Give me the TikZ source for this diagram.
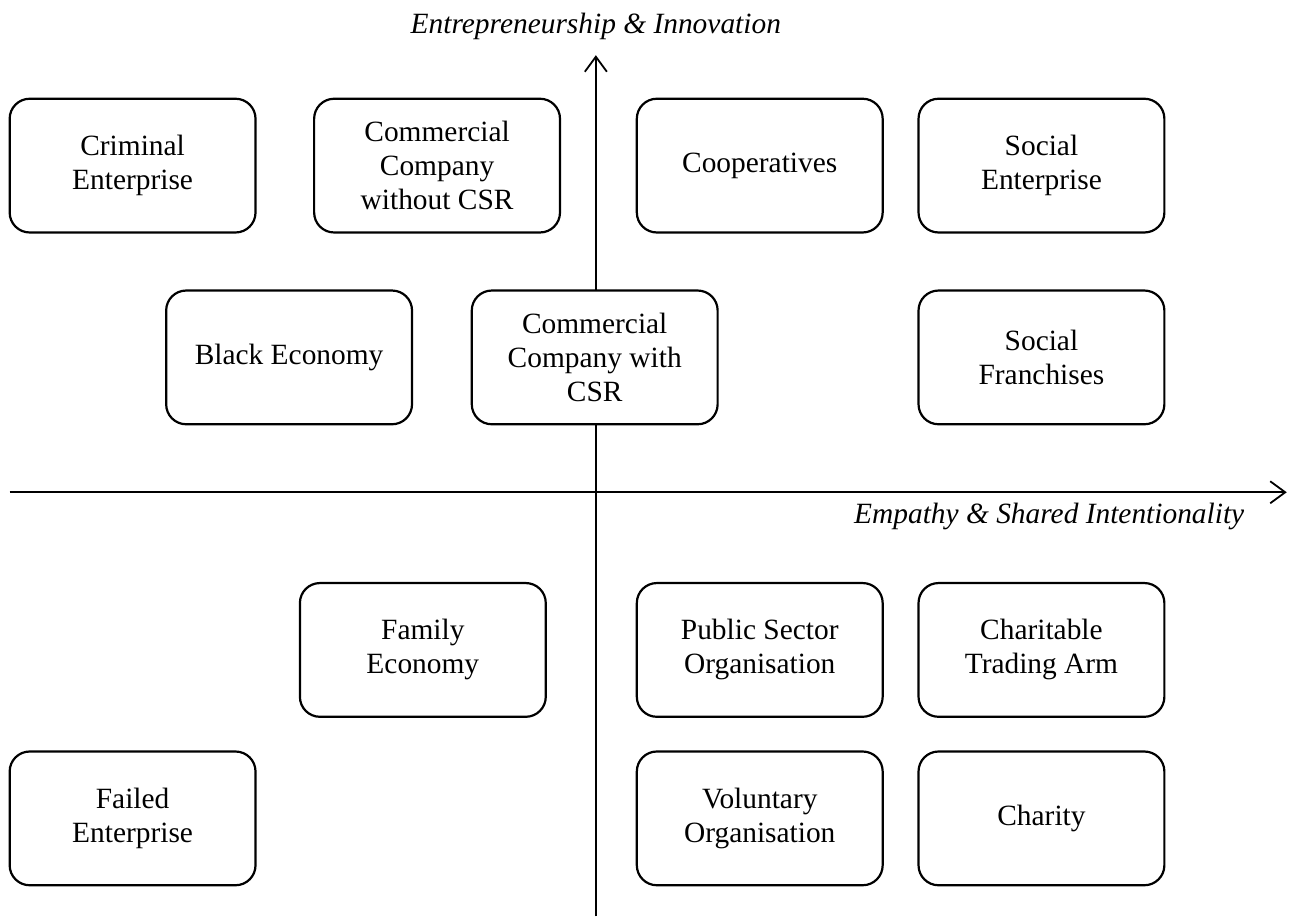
\documentclass[tikz,border=0pt]{standalone}
\usepackage{fontspec}
\setmainfont{Liberation Serif}
\usetikzlibrary{arrows.meta}

\begin{document}
\begin{tikzpicture}[
    org/.style={draw, line width=1.1pt, fill=white, rounded corners=10pt,
      minimum width=4.32cm, minimum height=2.35cm, align=center,
      font=\fontsize{14.7}{17}\selectfont},
    axis/.style={line width=0.9pt, -{Straight Barb[length=7.5pt,width=11pt]}},
    axislabel/.style={font=\fontsize{14.7}{17}\selectfont\itshape, inner sep=0pt}
  ]
  \useasboundingbox (-10.47,-7.45) rectangle (12.25,8.65);
  % axes
  \coordinate (west) at (-10.30,0);
  \coordinate (east) at (12.14,0);
  \coordinate (south) at (0,-7.45);
  \coordinate (north) at (0,7.68);
  \draw[axis] (west) -- (east);
  \draw[axis] (south) -- (north);
  \node[axislabel, anchor=base] (innovation) at (0,8.07) {Entrepreneurship \& Innovation};
  \node[axislabel, anchor=base east] (empathy) at (11.40,-0.55) {Empathy \& Shared Intentionality};
  % upper half
  \node[org] (criminal) at (-8.14,5.74) {Criminal\\Enterprise};
  \node[org] (nocsr) at (-2.79,5.74) {Commercial\\Company\\without CSR};
  \node[org] (coop) at (2.88,5.74) {Cooperatives};
  \node[org] (socent) at (7.83,5.74) {Social\\Enterprise};
  \node[org] (black) at (-5.39,2.37) {Black Economy};
  \node[org] (withcsr) at (-0.02,2.37) {Commercial\\Company with\\CSR};
  \node[org] (franchise) at (7.83,2.37) {Social\\Franchises};
  % lower half
  \node[org] (family) at (-3.04,-2.77) {Family\\Economy};
  \node[org] (public) at (2.88,-2.77) {Public Sector\\Organisation};
  \node[org] (trading) at (7.83,-2.77) {Charitable\\Trading Arm};
  \node[org] (failed) at (-8.14,-5.73) {Failed\\Enterprise};
  \node[org] (voluntary) at (2.88,-5.73) {Voluntary\\Organisation};
  \node[org] (charity) at (7.83,-5.73) {Charity};
\end{tikzpicture}
\end{document}
